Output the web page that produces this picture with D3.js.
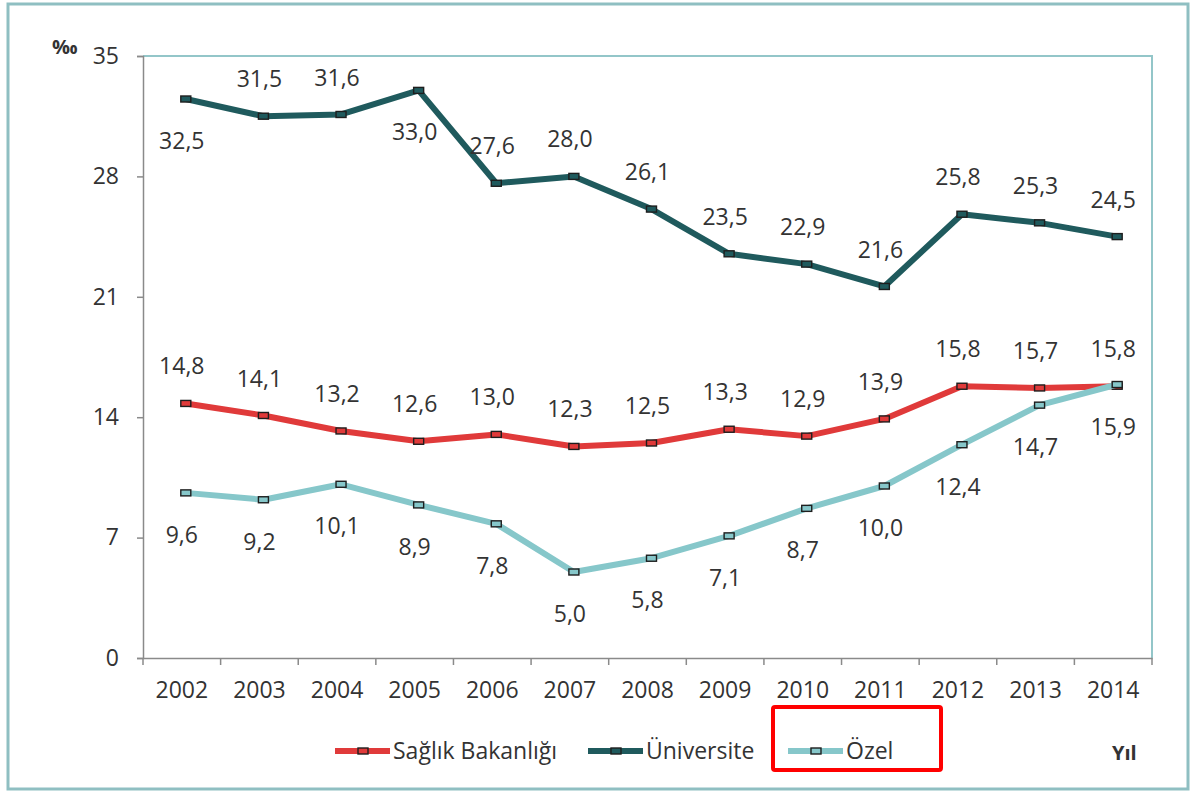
<!DOCTYPE html>
<html>
<head>
<meta charset="utf-8">
<script src="https://cdn.jsdelivr.net/npm/d3@7"></script>
<style>
  body { margin: 0; background: #fff; }
  svg text { font-family: "Open Sans", sans-serif; fill: #333; }
</style>
</head>
<body>
<script>
  /* data */
  var years = ["2002", "2003", "2004", "2005", "2006", "2007", "2008",
               "2009", "2010", "2011", "2012", "2013", "2014"];
  var saglik     = [14.8, 14.1, 13.2, 12.6, 13.0, 12.3, 12.5, 13.3, 12.9, 13.9, 15.8, 15.7, 15.8];
  var universite = [32.5, 31.5, 31.6, 33.0, 27.6, 28.0, 26.1, 23.5, 22.9, 21.6, 25.8, 25.3, 24.5];
  var ozel       = [9.6, 9.2, 10.1, 8.9, 7.8, 5.0, 5.8, 7.1, 8.7, 10.0, 12.4, 14.7, 15.9];
  var yTicks = [0, 7, 14, 21, 28, 35];

  /* which side the value label sits: 1 = below, -1 = above */
  var uniSide   = [1, -1, -1, 1, -1, -1, -1, -1, -1, -1, -1, -1, -1];
  var sagSide   = years.map(function () { return -1; });
  var ozelSide  = years.map(function () { return 1; });

  var series = [
    { name: "Sağlık Bakanlığı", values: saglik, side: sagSide, color: "#e03a3a" },
    { name: "Üniversite", values: universite, side: uniSide, color: "#1f5a5d" },
    { name: "Özel", values: ozel, side: ozelSide, color: "#86c7ca" }
  ];

  var W = 1193, H = 794;
  var pLeft = 143, pRight = 1152, pTop = 56, pBottom = 658;
  var fs = 23;

  var svg = d3.select("body").append("svg")
      .attr("width", W)
      .attr("height", H);

  /* outer frame */
  svg.append("rect")
    .attr("x", 8).attr("y", 4)
    .attr("width", 1180).attr("height", 785)
    .attr("fill", "none")
    .attr("stroke", "#8fbfc2")
    .attr("stroke-width", 3);

  var x = d3.scaleBand().domain(years).range([pLeft, pRight]);
  var y = d3.scaleLinear().domain([0, 35]).range([pBottom, pTop]);
  var px = function (i) { return x(years[i]) + x.bandwidth() / 2 + 4; };
  var lx = function (i) { return x(years[i]) + x.bandwidth() / 2; };

  /* plot frame top + right */
  svg.append("path")
    .attr("d", "M" + pLeft + "," + pTop + "H" + pRight + "V" + pBottom)
    .attr("fill", "none")
    .attr("stroke", "#93c6c9")
    .attr("stroke-width", 2);

  /* y axis */
  var gy = svg.append("g").attr("transform", "translate(" + pLeft + ",0)")
    .call(d3.axisLeft(y).tickValues(yTicks).tickSize(6).tickPadding(18));
  gy.select(".domain").attr("stroke", "#8a8a8a").attr("stroke-width", 1.5);
  gy.selectAll(".tick line").attr("stroke", "#8a8a8a").attr("stroke-width", 1.5);
  gy.selectAll(".tick text").style("font-size", fs + "px").attr("fill", "#333");

  /* x axis */
  var gx = svg.append("g").attr("transform", "translate(0," + pBottom + ")")
    .call(d3.axisBottom(x).tickSize(0).tickPadding(24));
  gx.select(".domain").attr("stroke", "#8a8a8a").attr("stroke-width", 1.5);
  gx.selectAll(".tick text").style("font-size", fs + "px").attr("fill", "#333");
  gx.selectAll(".sep")
    .data(years.concat(["end"]))
    .enter().append("line")
      .attr("x1", function (d, i) { return pLeft + i * x.bandwidth(); })
      .attr("x2", function (d, i) { return pLeft + i * x.bandwidth(); })
      .attr("y1", 0).attr("y2", 7)
      .attr("stroke", "#8a8a8a").attr("stroke-width", 1.5);

  var line = d3.line()
    .x(function (d, i) { return px(i); })
    .y(function (d) { return y(d); });

  var fmt = function (v) { return d3.format(".1f")(v).replace(".", ","); };

  series.forEach(function (s) {
    var g = svg.append("g");
    g.append("path")
      .datum(s.values)
      .attr("d", line)
      .attr("fill", "none")
      .attr("stroke", s.color)
      .attr("stroke-width", 6)
      .attr("stroke-linejoin", "round");

    g.selectAll("rect")
      .data(s.values)
      .enter().append("rect")
        .attr("x", function (d, i) { return px(i) - 5; })
        .attr("y", function (d) { return y(d) - 3; })
        .attr("width", 10).attr("height", 6)
        .attr("fill", s.color)
        .attr("stroke", "#1e1e1e")
        .attr("stroke-width", 1.4);

    g.selectAll("text")
      .data(s.values)
      .enter().append("text")
        .attr("x", function (d, i) { return lx(i); })
        .attr("y", function (d, i) { return y(d) + (s.side[i] > 0 ? 42 : -37); })
        .attr("dy", "0.35em")
        .attr("text-anchor", "middle")
        .style("font-size", fs + "px")
        .text(fmt);
  });

  /* unit and axis name */
  svg.append("text")
    .attr("x", 52).attr("y", 54)
    .style("font-size", "20px").style("font-weight", "bold")
    .text("‰");
  svg.append("text")
    .attr("x", 1112).attr("y", 760)
    .style("font-size", "20px").style("font-weight", "bold")
    .text("Yıl");

  /* legend */
  var legX = [335, 588, 788];
  var leg = svg.append("g");
  series.forEach(function (s, i) {
    var lg = leg.append("g").attr("transform", "translate(" + legX[i] + ",751)");
    lg.append("line")
      .attr("x1", 0).attr("x2", 55)
      .attr("stroke", s.color).attr("stroke-width", 6);
    lg.append("rect")
      .attr("x", 23).attr("y", -3).attr("width", 10).attr("height", 6)
      .attr("fill", s.color).attr("stroke", "#1e1e1e").attr("stroke-width", 1.4);
    lg.append("text")
      .attr("x", 58).attr("dy", "0.35em")
      .style("font-size", fs + "px")
      .text(s.name);
  });

  /* highlight box around the last legend entry */
  svg.append("rect")
    .attr("x", 773).attr("y", 707)
    .attr("width", 168).attr("height", 63)
    .attr("rx", 2)
    .attr("fill", "none")
    .attr("stroke", "#ff0000")
    .attr("stroke-width", 4);
</script>
</body>
</html>
